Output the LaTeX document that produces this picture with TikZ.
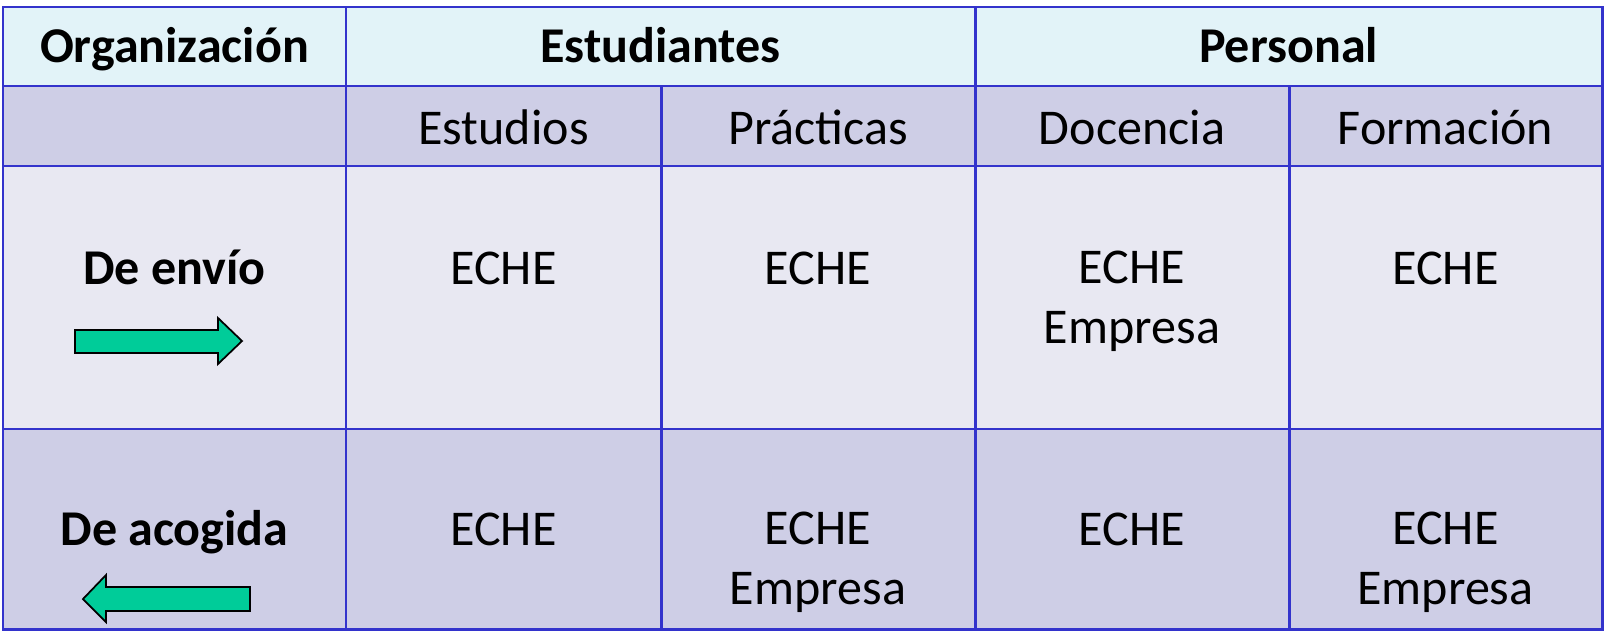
\documentclass[tikz,border=0pt]{standalone}
\usepackage{fontspec}
\setmainfont{Carlito}
\usepackage{xcolor}
\usepackage{tikz}
\usetikzlibrary{positioning,calc}

\definecolor{headcyan}{RGB}{226,243,248}
\definecolor{rowlila}{RGB}{206,206,230}
\definecolor{rowpale}{RGB}{232,232,242}
\definecolor{gridblue}{RGB}{51,51,204}
\definecolor{arrowgreen}{RGB}{0,204,153}

\tikzset{
	celltxt/.style={font=\fontsize{28.5}{33.6}\selectfont, inner sep=0pt, anchor=base, align=center},
	headtxt/.style={celltxt, font=\fontsize{28.5}{33.6}\selectfont\bfseries},
	gridline/.style={gridblue, line width=1.7pt},
	mobarrow/.style={fill=arrowgreen, draw=black, line width=1pt, line join=miter}
}

\begin{document}
\begin{tikzpicture}[x=0.02cm,y=-0.02cm]
		\useasboundingbox (0,0) rectangle (1604,635);
		% rows
		\fill[headcyan] (3,7) rectangle (1602,86);
		\fill[rowlila] (3,86) rectangle (1602,166);
		\fill[rowpale] (3,166) rectangle (1602,429);
		\fill[rowlila] (3,429) rectangle (1602,629);
		% grid
		\foreach \y in {86,166,429} \draw[gridline] (3,\y) -- (1602,\y);
		\foreach \x in {346,975} \draw[gridline] (\x,7) -- (\x,629);
		\foreach \x in {661,1289} \draw[gridline] (\x,86) -- (\x,629);
		\draw[gridline] (3,7) rectangle (1602,629);
		% header
		\node[headtxt] (org) at (174.5,62.5) {Organización};
		\node[headtxt] (estud) at (660.5,62.5) {Estudiantes};
		\node[headtxt] (pers) at (1288.5,62.5) {Personal};
		\node[celltxt] (estudios) at (503.5,144) {Estudios};
		\node[celltxt] (practicas) at (818,144) {Prácticas};
		\node[celltxt] (docencia) at (1132,144) {Docencia};
		\node[celltxt] (formacion) at (1445.5,144) {Formación};
		% envio (two-line cells sit on their last baseline)
		\node[headtxt] (envio) at (174.5,284) {De envío};
		\node[celltxt] (envEst) at (503.5,284) {ECHE};
		\node[celltxt] (envPra) at (818,284) {ECHE};
		\node[celltxt] (envDoc) at (1132,343) {ECHE\\Empresa};
		\node[celltxt] (envFor) at (1445.5,284) {ECHE};
		\draw[mobarrow] (75,330) -- (218,330) -- (218,318) -- (242,341) -- (218,364)
			-- (218,353) -- (75,353) -- cycle;
		% acogida
		\node[headtxt] (acog) at (174.5,545) {De acogida};
		\node[celltxt] (acoEst) at (503.5,545) {ECHE};
		\node[celltxt] (acoPra) at (818,604) {ECHE\\Empresa};
		\node[celltxt] (acoDoc) at (1132,545) {ECHE};
		\node[celltxt] (acoFor) at (1445.5,604) {ECHE\\Empresa};
		\draw[mobarrow] (250,587) -- (106,587) -- (106,575) -- (83,599) -- (106,622)
			-- (106,611) -- (250,611) -- cycle;
	\end{tikzpicture}
\end{document}
